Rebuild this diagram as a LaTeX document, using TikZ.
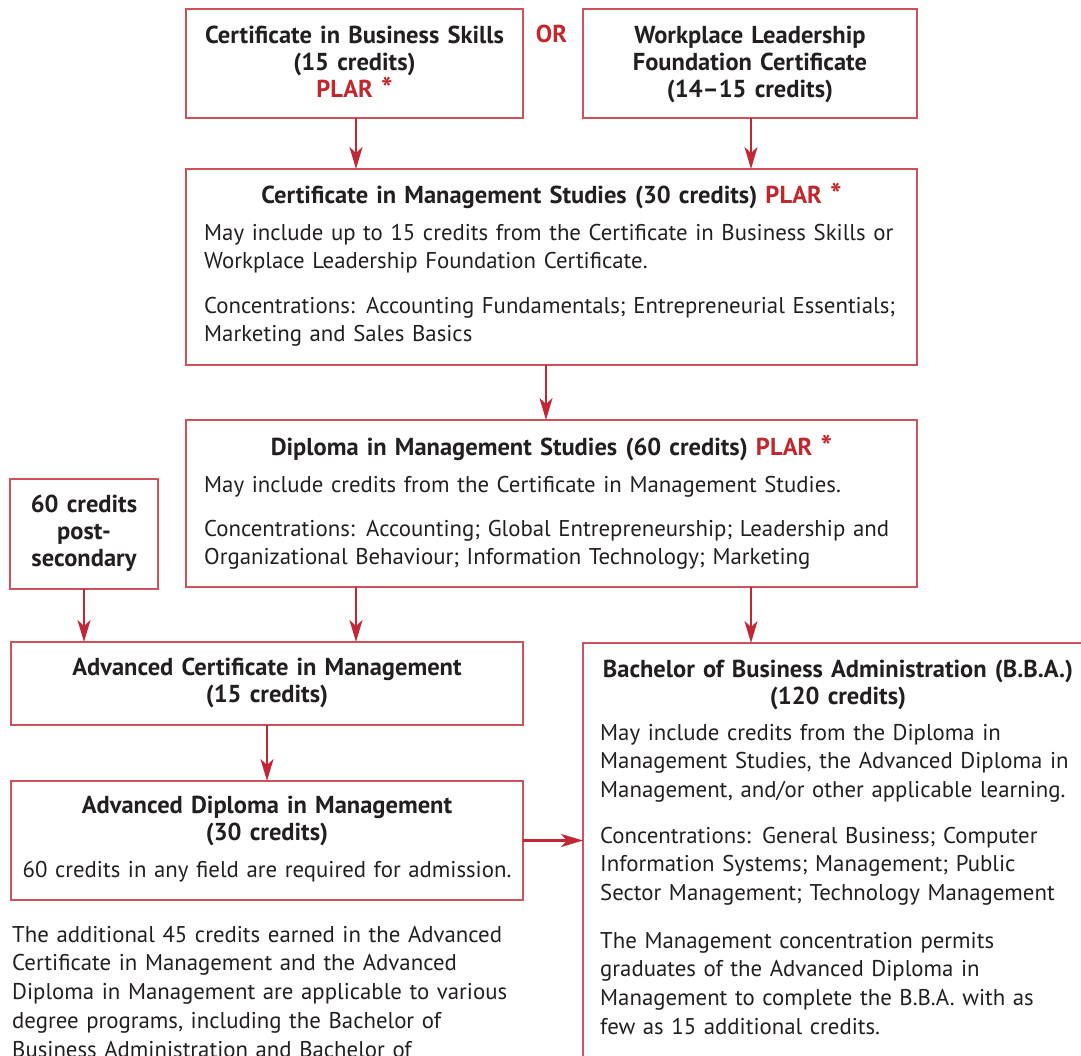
\documentclass[tikz,border=0pt]{standalone}
\usepackage{fontspec}
\setmainfont{PT Sans}
\usetikzlibrary{arrows.meta}
\definecolor{txt}{RGB}{35,31,32}
\definecolor{plar}{RGB}{193,39,45}
\definecolor{arr}{RGB}{193,39,55}
\definecolor{frame}{RGB}{208,80,92}
\newcommand\fbody{\fontsize{22.8}{28.8}\selectfont}
\newcommand\ftitle{\fontsize{24.5}{27}\selectfont\bfseries}
\newcommand\plartag{\textcolor{plar}{PLAR \raisebox{-0.12em}{\scalebox{1.25}{*}}}}
\tikzset{
  box/.style={draw=frame, line width=1.4pt, rectangle, inner sep=0pt, outer sep=0pt, anchor=north west},
  conn/.style={draw=arr, line width=2.3pt, -{Stealth[length=22pt,width=13pt,inset=6pt]}},
  ttl/.style={inner sep=0pt, anchor=base, align=center, text width=#1, font=\ftitle, text=txt},
  bod/.style={inner sep=0pt, anchor=base west, align=left, text width=#1, font=\fbody, text=txt},
  bodc/.style={inner sep=0pt, anchor=base, align=center, text width=#1, font=\fbody, text=txt}
}
\begin{document}
\begin{tikzpicture}[x=1pt,y=-1pt]
\useasboundingbox (0,0) rectangle (1081,1055);
\clip (0,0) rectangle (1081,1055);

% boxes
\node[box, minimum width=337pt, minimum height=109pt] (A) at (186,9) {};
\node[box, minimum width=334pt, minimum height=109pt] (B) at (583,9) {};
\node[box, minimum width=731pt, minimum height=196pt] (C) at (186,169) {};
\node[box, minimum width=731pt, minimum height=167pt] (D) at (186,420) {};
\node[box, minimum width=148pt, minimum height=110pt] (E) at (10,479) {};
\node[box, minimum width=512pt, minimum height=83pt] (F) at (11,642) {};
\node[box, minimum width=511pt, minimum height=500pt] (G) at (583,643) {};
\node[box, minimum width=512pt, minimum height=119pt] (H) at (11,781) {};

% texts
\node[ttl=330pt] (tA) at (354.5,43) {Certificate in Business Skills\\(15 credits)\\\plartag};
\node[ttl=330pt] (tB) at (750,43) {Workplace Leadership\\Foundation Certificate\\(14–15 credits)};
\node[inner sep=0pt, anchor=base, font=\ftitle, text=plar] (or) at (551.5,42) {OR};

\node[ttl=720pt] (tC) at (551.5,203) {Certificate in Management Studies (30 credits) \plartag};
\node[bod=715pt] (bC1) at (204,240) {May include up to 15 credits from the Certificate in Business Skills or\\Workplace Leadership Foundation Certificate.};
\node[bod=715pt] (bC2) at (204,313) {Concentrations: Accounting Fundamentals; Entrepreneurial Essentials;\\Marketing and Sales Basics};

\node[ttl=720pt] (tD) at (551.5,455) {Diploma in Management Studies (60 credits) \plartag};
\node[bod=715pt] (bD1) at (204,492) {May include credits from the Certificate in Management Studies.};
\node[bod=715pt] (bD2) at (204,536) {Concentrations: Accounting; Global Entrepreneurship; Leadership and\\Organizational Behaviour; Information Technology; Marketing};

\node[ttl=145pt] (tE) at (84,512) {60 credits\\post-\\secondary};

\node[ttl=505pt] (tF) at (267,675) {Advanced Certificate in Management\\(15 credits)};

\node[ttl=505pt] (tH) at (267,813) {Advanced Diploma in Management\\(30 credits)};
\node[bodc=505pt] (bH) at (267,877) {60 credits in any field are required for admission.};

\node[ttl=505pt] (tG) at (838,677) {Bachelor of Business Administration (B.B.A.)\\(120 credits)};
\node[bod=600pt] (bG1) at (600,740) {May include credits from the Diploma in\\Management Studies, the Advanced Diploma in\\Management, and/or other applicable learning.};
\node[bod=600pt] (bG2) at (600,843) {Concentrations: General Business; Computer\\Information Systems; Management; Public\\Sector Management; Technology Management};
\node[bod=600pt] (bG3) at (600,948) {The Management concentration permits\\graduates of the Advanced Diploma in\\Management to complete the B.B.A. with as\\few as 15 additional credits.};

\node[bod=560pt] (note) at (12,942) {The additional 45 credits earned in the Advanced\\Certificate in Management and the Advanced\\Diploma in Management are applicable to various\\degree programs, including the Bachelor of\\Business Administration and Bachelor of};

% connectors
\coordinate (xl) at (356,0);
\coordinate (xr) at (751,0);
\coordinate (xm) at (546,0);
\draw[conn] (A.south -| xl) -- (C.north -| xl);
\draw[conn] (B.south -| xr) -- (C.north -| xr);
\draw[conn] (C.south -| xm) -- (D.north -| xm);
\draw[conn] (E.south) -- (F.north -| E.south);
\draw[conn] (D.south -| xl) -- (F.north -| xl);
\draw[conn] (D.south -| xr) -- (G.north -| xr);
\draw[conn] (F.south -| H.north) -- (H.north);
\draw[conn] (H.east) -- (H.east -| G.west);
\end{tikzpicture}
\end{document}
